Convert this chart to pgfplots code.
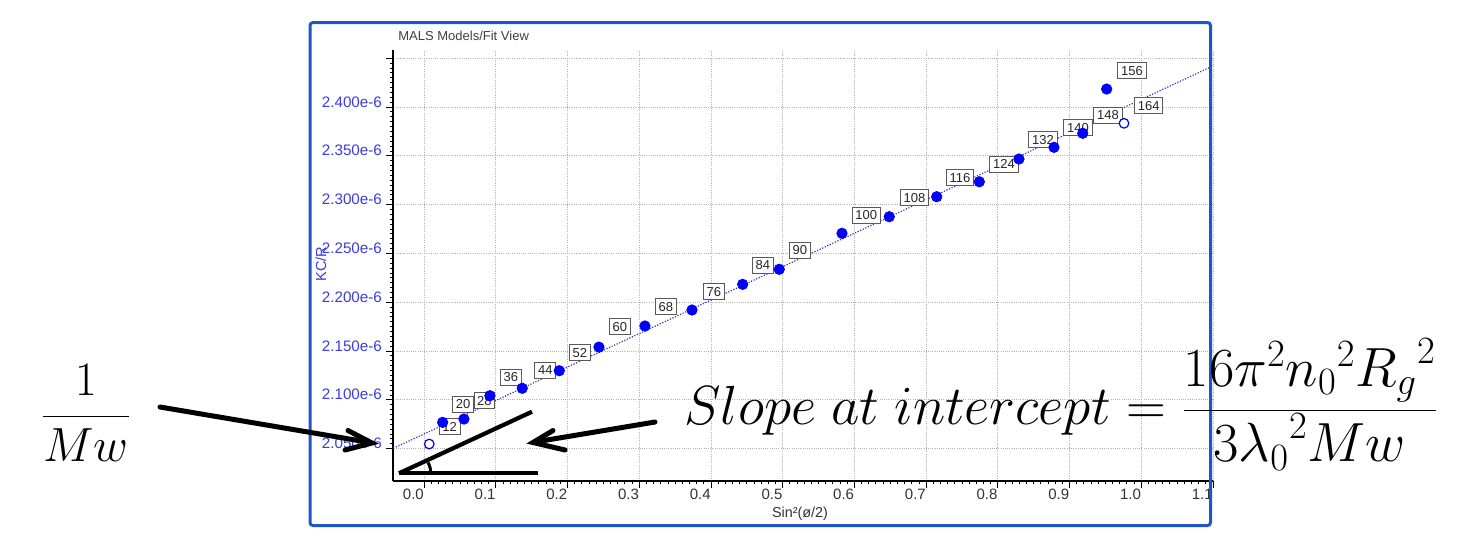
\RequirePackage{fix-cm}
\documentclass[border=0pt]{standalone}
\usepackage[no-math]{fontspec}
\setmainfont{Liberation Sans}
\usepackage{pgfplots}
\pgfplotsset{compat=1.18}
\definecolor{framecol}{RGB}{30,85,200}
\definecolor{ytickcol}{RGB}{60,60,225}
\definecolor{ptblue}{RGB}{0,0,255}
\definecolor{fitcol}{RGB}{50,50,200}
\tikzset{lbl/.style={draw=black!65, fill=white, line width=0.5pt, inner xsep=1.6pt, inner ysep=0.9pt,
  font=\fontsize{6.5}{7}\selectfont, text=black!85, minimum height=8pt}}
\begin{document}
\begin{tikzpicture}
\fill[white] (0,0) rectangle (733pt,-273.5pt);
\path[use as bounding box] (0,0) rectangle (733pt,-273.5pt);
\begin{axis}[
  at={(196.65pt,-240.5pt)}, anchor=south west,
  scale only axis, width=409.85pt, height=215.5pt,
  xmin=-0.0431, xmax=1.1, ymin=2.0169, ymax=2.4585,
  axis lines*=left,
  x axis line style={-, line width=0.8pt},
  y axis line style={-, line width=1pt},
  tick align=outside,
  major tick length=3.5pt, minor tick length=1.5pt,
  tick style={black, line width=0.5pt},
  minor x tick num=9, minor y tick num=9,
  xtick={0,0.1,0.2,0.3,0.4,0.5,0.6,0.7,0.8,0.9,1.0,1.1},
  xticklabels={0.0,0.1,0.2,0.3,0.4,0.5,0.6,0.7,0.8,0.9,1.0,1.1},
  ytick={2.05,2.1,2.15,2.2,2.25,2.3,2.35,2.4,2.45},
  yticklabels={2.050e-6,2.100e-6,2.150e-6,2.200e-6,2.250e-6,2.300e-6,2.350e-6,2.400e-6,{}},
  xticklabel style={anchor=north east, inner sep=0pt, yshift=-0.5pt, font=\fontsize{7.5}{9}\selectfont, text=black!80},
  yticklabel style={anchor=base east, inner sep=0pt, xshift=-2pt, font=\fontsize{7.6}{9}\selectfont, text=ytickcol},
  grid=major,
  major grid style={dash pattern=on 0.5pt off 0.6pt, color=black!30, line width=0.5pt},
  clip=false,
]
\addplot[draw=none, mark=none, nodes near coords, point meta=explicit symbolic,
  every node near coord/.append style={lbl, anchor=center}] table[meta=lab] {
x y lab
0.0354 2.0725 12
0.0544 2.0953 20
0.0840 2.0989 28
0.1209 2.1230 36
0.1690 2.1306 44
0.2172 2.1481 52
0.2729 2.1747 60
0.3371 2.1952 68
0.4038 2.2109 76
0.4724 2.2382 84
0.5240 2.2531 90
0.6163 2.2894 100
0.6837 2.3069 108
0.7471 2.3274 116
0.8085 2.3417 124
0.8629 2.3663 132
0.9117 2.3786 140
0.9536 2.3919 148
0.9870 2.4370 156
1.0104 2.4016 164
};
\addplot[color=fitcol, line width=0.6pt, dash pattern=on 0.6pt off 0.8pt, mark=none]
  coordinates {(-0.0431,2.0504) (1.1,2.4422)};
\addplot[only marks, mark=*, mark size=2.6pt, color=ptblue] coordinates {
(0.0257,2.0770) (0.0554,2.0804) (0.0916,2.1043) (0.1367,2.1119) (0.1883,2.1299)
(0.2437,2.1541) (0.3078,2.1757) (0.3734,2.1921) (0.4441,2.2184) (0.4951,2.2338)
(0.5826,2.2707) (0.6485,2.2877) (0.7147,2.3082) (0.7741,2.3235) (0.8294,2.3468)
(0.8782,2.3588) (0.9183,2.3732) (0.9517,2.4185)
};
\addplot[only marks, mark=*, mark size=2.4pt, draw=ptblue, fill=white, mark options={line width=0.6pt}]
  coordinates {(0.007,2.0548) (0.9759,2.3834)};
\end{axis}
\begin{scope}[x=0.5pt, y=-0.5pt]
\draw[framecol, line width=1.5pt, rounded corners=1.5pt] (310,22.5) rectangle (1210.5,525.5);
\node[anchor=base west, inner sep=0pt, font=\fontsize{6.5}{8}\selectfont, text=black!75] at (398,40) {MALS Models/Fit View};
\node[anchor=base, inner sep=0pt, font=\fontsize{7.2}{8}\selectfont, text=black!80] at (800,517) {Sin²(ø/2)};
\node[rotate=90, inner sep=0pt, font=\fontsize{7.3}{8}\selectfont, text=ytickcol] at (321,264) {KC/R};
% annotations
\draw[line width=2.5pt, line cap=round] (160,407) -- (370,442.5);
\draw[line width=2.5pt, line cap=round, line join=miter] (348,430.5) -- (372,443) -- (345,450);
\draw[line width=2.5pt, line cap=round] (655,422) -- (535,442);
\draw[line width=2.5pt, line cap=round, line join=miter] (553,430.5) -- (533,442.5) -- (565,450);
\draw[line width=2.1pt] (399,473.3) -- (538,473.3);
\draw[line width=2.1pt] (399,473.3) -- (532,411.7);
\draw[line width=1.5pt] (428,462.5) to[bend left=15] (430.5,473);
\node[inner sep=0pt] at (86,413) {\fontsize{24}{28}\selectfont $\displaystyle\frac{1}{Mw}$};
\node[anchor=base west, inner sep=0pt] at (684,424) {\fontsize{27.6}{30}\selectfont $Slope\ at\ intercept = \displaystyle\frac{16\pi^2{n_0}^2{R_g}^2}{3{\lambda_0}^2Mw}$};
\end{scope}
\end{tikzpicture}
\end{document}
